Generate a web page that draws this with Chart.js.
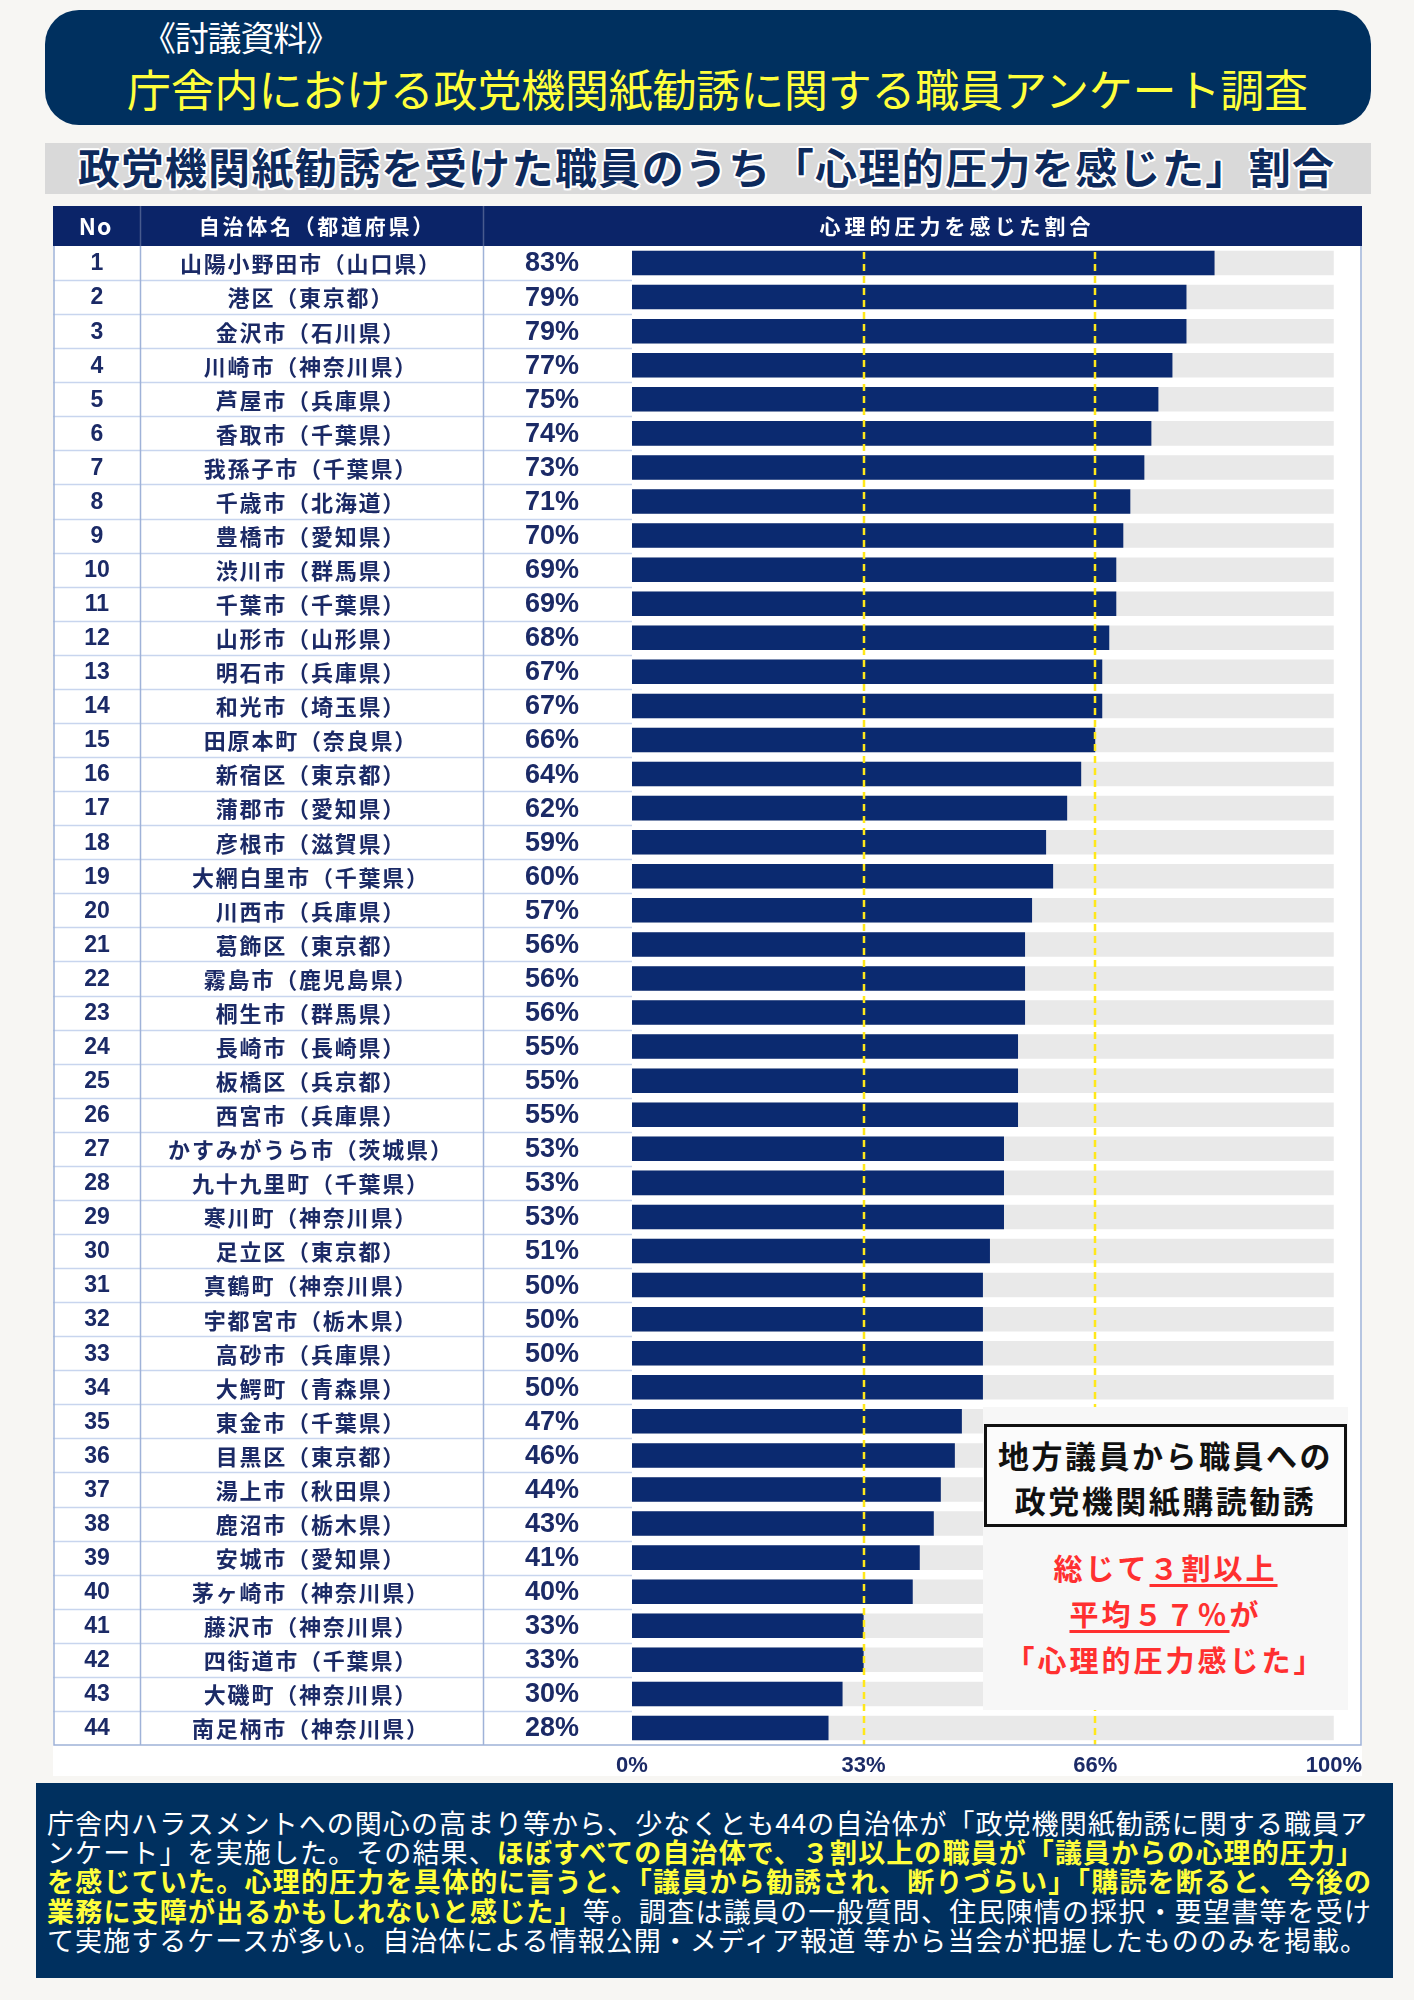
<!DOCTYPE html>
<html lang="ja">
<head>
<meta charset="utf-8">
<title>庁舎内における政党機関紙勧誘に関する職員アンケート調査</title>
<script src="https://cdn.jsdelivr.net/npm/chart.js@4.4.1/dist/chart.umd.min.js"></script>
<style>
    html, body { margin: 0; padding: 0; }
    body {
        width: 1414px; height: 2000px; position: relative; overflow: hidden;
        background: #f7f6f3;
        font-family: "Noto Sans CJK JP", "Noto Sans", sans-serif;
    }
    .fit { white-space: nowrap; width: max-content; }
    .title-box {
        position: absolute; left: 45px; top: 10px; width: 1326px; height: 115px;
        background: #00305f; border-radius: 34px;
    }
    .title-box .tag {
        position: absolute; left: 97px; top: 5px;
        font-size: 34px; line-height: 44px; color: #fff;
    }
    .title-box .main {
        position: absolute; left: 82px; top: 49px;
        font-size: 44px; line-height: 58px; color: #ffff3c;
    }
    .sub-band {
        position: absolute; left: 45px; top: 143px; width: 1326px; height: 51px;
        background: #d9d9d9;
    }
    .sub-band .fit {
        position: absolute; left: 33px; top: 0;
        font-size: 42px; line-height: 46px; font-weight: bold; color: #0d2a5c;
        text-shadow: -2px 0 #fff, 2px 0 #fff, 0 -2px #fff, 0 2px #fff,
                     -1.5px -1.5px #fff, 1.5px 1.5px #fff, -1.5px 1.5px #fff, 1.5px -1.5px #fff;
    }
    #chartWrap { position: absolute; left: 53px; top: 206px; width: 1309px; height: 1570px; }
    .note-panel {
        position: absolute; left: 983px; top: 1407px; width: 365px; height: 303px;
        background: #f7f7f7;
    }
    .note-box {
        position: absolute; left: 1px; top: 17px; width: 357px; height: 92px;
        border: 3px solid #111; background: #fbfbfb; padding-top: 5px;
        text-align: center; font-size: 31px; line-height: 45px; font-weight: bold;
        color: #111; letter-spacing: 2.5px; white-space: nowrap;
    }
    .note-red {
        position: absolute; left: 0; top: 137px; width: 365px;
        text-align: center; font-size: 29px; line-height: 46px; font-weight: bold;
        color: #ff3030; letter-spacing: 3px; white-space: nowrap;
    }
    .note-red u {
        text-decoration: underline; text-decoration-thickness: 3px;
        text-underline-offset: 4px; text-decoration-color: #ff3030;
    }
    .footer {
        position: absolute; left: 36px; top: 1783px; width: 1357px; height: 195px;
        background: #00305f;
    }
    .footer .lines {
        position: absolute; left: 11px; top: 25px;
        color: #fff; font-size: 27px; line-height: 29.2px;
    }
    .footer .hl { color: #ffff3c; font-weight: bold; }
</style>
</head>
<body>

<div class="title-box">
    <div class="tag fit" data-width="198">《討議資料》</div>
    <div class="main fit" data-width="1181">庁舎内における政党機関紙勧誘に関する職員アンケート調査</div>
</div>

<div class="sub-band"><div class="fit" data-width="1256">政党機関紙勧誘を受けた職員のうち「心理的圧力を感じた」割合</div></div>

<div id="chartWrap"><canvas id="pressureChart"></canvas></div>

<div class="note-panel">
    <div class="note-box">地方議員から職員への<br>政党機関紙購読勧誘</div>
    <div class="note-red">総じて<u>３割以上</u><br><u>平均５７％</u>が<br>「心理的圧力感じた」</div>
</div>

<div class="footer">
    <div class="lines">
        <div class="fit" data-width="1320">庁舎内ハラスメントへの関心の高まり等から、少なくとも44の自治体が「政党機関紙勧誘に関する職員ア</div>
        <div class="fit" data-width="1316">ンケート」を実施した。その結果、<span class="hl">ほぼすべての自治体で、３割以上の職員が「議員からの心理的圧力」</span></div>
        <div class="fit" data-width="1324"><span class="hl">を感じていた。心理的圧力を具体的に言うと、「議員から勧誘され、断りづらい」「購読を断ると、今後の</span></div>
        <div class="fit" data-width="1324"><span class="hl">業務に支障が出るかもしれないと感じた」</span>等。調査は議員の一般質問、住民陳情の採択・要望書等を受け</div>
        <div class="fit" data-width="1320">て実施するケースが多い。自治体による情報公開・メディア報道 等から当会が把握したもののみを掲載。</div>
    </div>
</div>

<script>
// Municipalities (prefecture), top to bottom
const municipalities = [
    "山陽小野田市（山口県）", "港区（東京都）", "金沢市（石川県）", "川崎市（神奈川県）",
    "芦屋市（兵庫県）", "香取市（千葉県）", "我孫子市（千葉県）", "千歳市（北海道）",
    "豊橋市（愛知県）", "渋川市（群馬県）", "千葉市（千葉県）", "山形市（山形県）",
    "明石市（兵庫県）", "和光市（埼玉県）", "田原本町（奈良県）", "新宿区（東京都）",
    "蒲郡市（愛知県）", "彦根市（滋賀県）", "大網白里市（千葉県）", "川西市（兵庫県）",
    "葛飾区（東京都）", "霧島市（鹿児島県）", "桐生市（群馬県）", "長崎市（長崎県）",
    "板橋区（兵京都）", "西宮市（兵庫県）", "かすみがうら市（茨城県）", "九十九里町（千葉県）",
    "寒川町（神奈川県）", "足立区（東京都）", "真鶴町（神奈川県）", "宇都宮市（栃木県）",
    "高砂市（兵庫県）", "大鰐町（青森県）", "東金市（千葉県）", "目黒区（東京都）",
    "湯上市（秋田県）", "鹿沼市（栃木県）", "安城市（愛知県）", "茅ヶ崎市（神奈川県）",
    "藤沢市（神奈川県）", "四街道市（千葉県）", "大磯町（神奈川県）", "南足柄市（神奈川県）"
];

// Share of staff who felt psychological pressure (%)
const pressureRates = [
    83, 79, 79, 77, 75, 74, 73, 71, 70, 69, 69,
    68, 67, 67, 66, 64, 62, 59, 60, 57, 56, 56,
    56, 55, 55, 55, 53, 53, 53, 51, 50, 50, 50,
    50, 47, 46, 44, 43, 41, 40, 33, 33, 30, 28
];

// Axis ticks and dashed guide lines (%)
const tickValues = [0, 33, 66, 100];
const guideLines = [33, 66];
const trackMax = 100;

// Column titles of the table header
const headerTitles = ["No", "自治体名（都道府県）", "心理的圧力を感じた割合"];

// Stretch each html text line to the width it has in the original
function fitLines() {
    document.querySelectorAll(".fit").forEach(function (el) {
        el.style.letterSpacing = "0px";
        const target = parseFloat(el.dataset.width);
        const w = el.getBoundingClientRect().width;
        const n = Math.max(el.textContent.trim().length - 1, 1);
        el.style.letterSpacing = ((target - w) / n) + "px";
    });
}

document.addEventListener("DOMContentLoaded", function () {
    fitLines();
    if (document.fonts && document.fonts.ready) document.fonts.ready.then(fitLines);

    const navy = "#0b2468";
    const textNavy = "#1b2a66";
    const barNavy = "#0b2a70";

    // Table column edges in canvas pixels
    const colNoRight = 87;
    const colNameRight = 430;

    // Draw text centred on cx with a fixed extra gap between characters
    function drawSpaced(ctx, text, cx, y, gap) {
        const chars = Array.from(text);
        const widths = chars.map(function (c) { return ctx.measureText(c).width; });
        const total = widths.reduce(function (a, b) { return a + b; }, 0) + gap * (chars.length - 1);
        let x = cx - total / 2;
        ctx.textAlign = "left";
        chars.forEach(function (c, i) {
            ctx.fillText(c, x, y);
            x += widths[i] + gap;
        });
    }

    // Draws the table around the bars: header, borders, row text
    const tablePlugin = {
        id: "tableFrame",
        beforeDraw(chart) {
            const { ctx, chartArea } = chart;
            ctx.save();
            ctx.fillStyle = "#ffffff";
            ctx.fillRect(0, 0, chart.width, chart.height);
            ctx.fillStyle = navy;
            ctx.fillRect(0, 0, chart.width, chartArea.top);
            ctx.restore();
        },
        afterDraw(chart) {
            const { ctx, chartArea, scales } = chart;
            const y = scales.y;
            const top = chartArea.top;
            const bottom = chartArea.bottom;
            ctx.save();

            // row separators in the text columns
            ctx.strokeStyle = "#c8d5ee";
            ctx.lineWidth = 1.5;
            for (let i = 1; i < municipalities.length; i++) {
                const yy = Math.round(y.getPixelForValue(i - 0.5)) + 0.5;
                ctx.beginPath();
                ctx.moveTo(0, yy);
                ctx.lineTo(chartArea.left, yy);
                ctx.stroke();
            }

            // column lines and outer frame
            ctx.strokeStyle = "#9fb2d8";
            ctx.beginPath();
            [colNoRight, colNameRight].forEach(function (x) {
                ctx.moveTo(x + 0.5, top);
                ctx.lineTo(x + 0.5, bottom);
            });
            ctx.moveTo(1, top);
            ctx.lineTo(1, bottom);
            ctx.lineTo(chart.width - 1, bottom);
            ctx.lineTo(chart.width - 1, top);
            ctx.stroke();

            ctx.strokeStyle = "rgba(255,255,255,0.25)";
            ctx.beginPath();
            [colNoRight, colNameRight].forEach(function (x) {
                ctx.moveTo(x + 0.5, 0);
                ctx.lineTo(x + 0.5, top);
            });
            ctx.stroke();

            // header text
            ctx.fillStyle = "#ffffff";
            ctx.textBaseline = "middle";
            ctx.font = "bold 23px 'Noto Sans CJK JP'";
            drawSpaced(ctx, headerTitles[0], 42, top / 2, 1);
            ctx.font = "bold 21px 'Noto Sans CJK JP'";
            drawSpaced(ctx, headerTitles[1], 263, top / 2, 2.7);
            drawSpaced(ctx, headerTitles[2], 902, top / 2, 4);

            // row text
            ctx.fillStyle = textNavy;
            municipalities.forEach(function (name, i) {
                const yy = y.getPixelForValue(i) + 1;
                ctx.textAlign = "center";
                ctx.font = "bold 23px 'Liberation Sans', Arial, sans-serif";
                ctx.fillText(String(i + 1), 44, yy);
                ctx.font = "bold 27px 'Liberation Sans', Arial, sans-serif";
                ctx.fillText(pressureRates[i] + "%", 499, yy);
                ctx.font = "bold 22px 'Noto Sans CJK JP'";
                drawSpaced(ctx, name, 257, yy, 1.8);
            });
            ctx.restore();
        }
    };

    // Yellow dashed guide lines at 33% and 66%
    const guidePlugin = {
        id: "guideLines",
        afterDatasetsDraw(chart) {
            const { ctx, chartArea, scales } = chart;
            ctx.save();
            ctx.strokeStyle = "#ffe81a";
            ctx.lineWidth = 2.5;
            ctx.setLineDash([7, 5]);
            guideLines.forEach(function (v) {
                const x = Math.round(scales.x.getPixelForValue(v));
                ctx.beginPath();
                ctx.moveTo(x, chartArea.top + 6);
                ctx.lineTo(x, chartArea.bottom);
                ctx.stroke();
            });
            ctx.restore();
        }
    };

    const data = {
        labels: municipalities,
        datasets: [
            {
                label: "心理的圧力を感じた割合",
                data: pressureRates,
                backgroundColor: barNavy,
                barPercentage: 0.72,
                categoryPercentage: 1,
                grouped: false,
                order: 0
            },
            {
                label: "track",
                data: municipalities.map(function () { return trackMax; }),
                backgroundColor: "#e9e9e9",
                barPercentage: 0.72,
                categoryPercentage: 1,
                grouped: false,
                order: 1
            }
        ]
    };

    const options = {
        indexAxis: "y",
        responsive: true,
        maintainAspectRatio: false,
        animation: false,
        layout: { padding: { top: 40, left: 579, right: 25, bottom: 4 } },
        plugins: {
            legend: { display: false },
            tooltip: { enabled: false }
        },
        scales: {
            y: {
                type: "category",
                display: false
            },
            x: {
                type: "linear",
                min: 0,
                max: trackMax,
                grid: { display: false },
                border: { display: false },
                afterBuildTicks: function (axis) {
                    axis.ticks = tickValues.map(function (v) { return { value: v }; });
                },
                afterFit: function (axis) { axis.height = 27; },
                ticks: {
                    padding: 0,
                    maxRotation: 0,
                    autoSkip: false,
                    color: textNavy,
                    font: { size: 22, weight: "bold", family: "'Liberation Sans', Arial, sans-serif" },
                    callback: function (v) { return v + "%"; }
                }
            }
        }
    };

    const ctx = document.getElementById("pressureChart").getContext("2d");
    new Chart(ctx, {
        type: "bar",
        data: data,
        options: options,
        plugins: [tablePlugin, guidePlugin]
    });
});
</script>
</body>
</html>
